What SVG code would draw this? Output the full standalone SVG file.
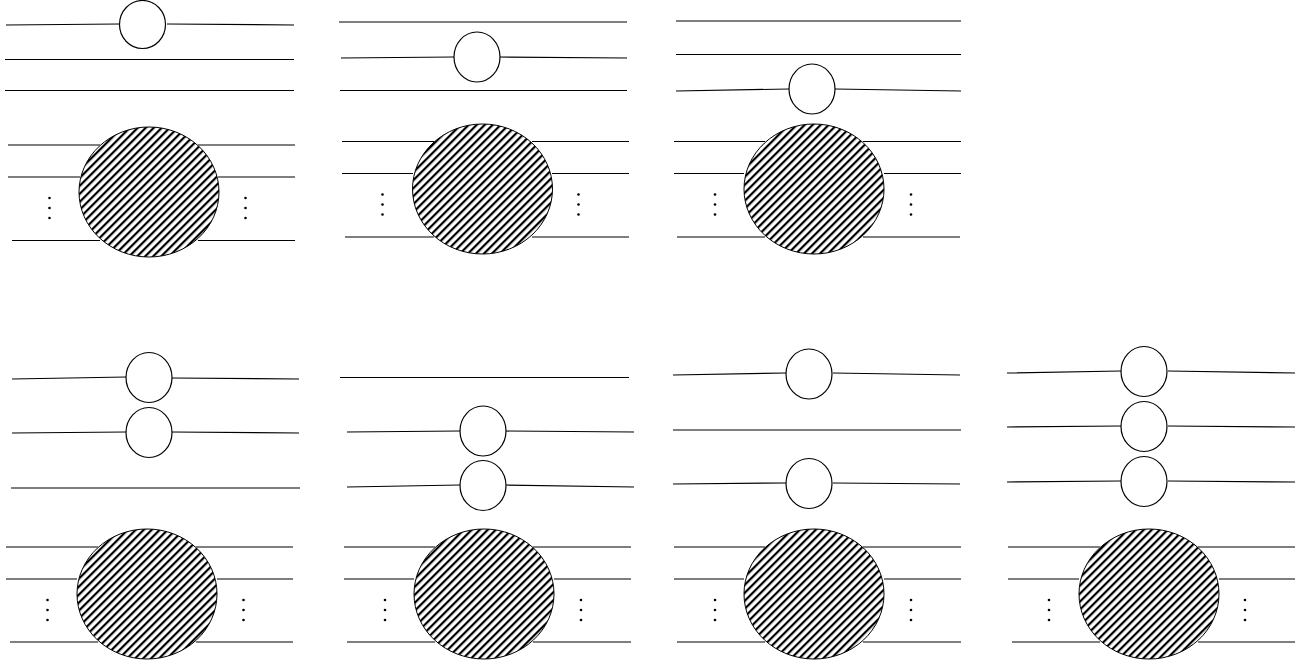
<svg xmlns="http://www.w3.org/2000/svg" width="1311" height="666" viewBox="0 0 1311 666">
<style>
line,path{fill:none;stroke:#000;stroke-width:1.2}
.s{fill:#fff;stroke:#000;stroke-width:1.2}
.b{fill:url(#h);stroke:#000;stroke-width:1}
.d{fill:#000;stroke:none}
</style>
<defs>
<pattern id="h" patternUnits="userSpaceOnUse" width="5.657" height="5.657" patternTransform="rotate(-45)">
<rect width="5.657" height="5.657" fill="#fff"/>
<rect width="5.657" height="2.200" fill="#000"/>
</pattern>
<g id="dots"><circle class="d" cx="0" cy="0" r="1.3"/><circle class="d" cx="0" cy="10" r="1.3"/><circle class="d" cx="0" cy="20" r="1.3"/></g>
</defs>
<g id="connectors">
<path d="M6 25L119 24M167 24L294 25M5 59.500H294M5 90.500H294M8 145H100M198 145H295M8 177H80M218 177H295M12 240.500H100M198 240.500H295"/>
<path d="M339 22H627M341 58L454 57M500 57L627 58M340 90.500H627M342 141.500H434M532 141.500H629M342 173.500H413M552 173.500H629M345 237H434M532 237H629"/>
<path d="M676 21H961M676 54.500H961M676 91L789 89M835 89L961 91M674 141.500H765M863 141.500H961M674 173.500H744M884 173.500H961M677 237H765M863 237H960"/>
<path d="M12 379L126 377M172 378L299 379M12 433L126 432M172 432L299 433M11 488H300M6 547H98M196 547H293M6 579H77M217 579H293M10 642H98M196 642H293"/>
<path d="M340 377.500H629M347 432L460 431M506 431L634 432M347 487L460 485M506 485L634 487M344 547H435M533 547H631M344 579H414M554 579H631M347 642H435M533 642H631"/>
<path d="M673 375L786 373M833 373L960 375M673 430H961M673 484L786 483M833 483L960 484M674 547H765M863 547H961M674 579H744M884 579H961M677 642H765M863 642H961"/>
<path d="M1007 373L1121 371M1168 371L1295 373M1007 427L1121 426M1168 426L1295 427M1007 482L1121 481M1168 481L1295 482M1008 547H1100M1198 547H1295M1008 579H1079M1219 579H1295M1012 642H1100M1198 642H1295"/>
</g>
<g id="p1-top"><ellipse class="s" cx="142.500" cy="24.500" rx="23" ry="24"/></g>
<g id="p1-blob"><ellipse class="b" cx="149" cy="192" rx="70" ry="65"/><use href="#dots" x="49.500" y="198"/><use href="#dots" x="245.500" y="198"/></g>
<g id="p2-top"><ellipse class="s" cx="477" cy="57" rx="23" ry="25"/></g>
<g id="p2-blob"><ellipse class="b" cx="482.500" cy="189" rx="70" ry="65"/><use href="#dots" x="382.500" y="194.500"/><use href="#dots" x="578.500" y="194.500"/></g>
<g id="p3-top"><ellipse class="s" cx="812" cy="89" rx="23" ry="25"/></g>
<g id="p3-blob"><ellipse class="b" cx="814" cy="189" rx="70" ry="65"/><use href="#dots" x="715" y="194.500"/><use href="#dots" x="911" y="194.500"/></g>
<g id="p4-a"><ellipse class="s" cx="149" cy="377.500" rx="23" ry="25"/></g>
<g id="p4-b"><ellipse class="s" cx="149" cy="432.500" rx="23" ry="25"/></g>
<g id="p4-blob"><ellipse class="b" cx="147" cy="594" rx="70" ry="65"/><use href="#dots" x="47.500" y="600"/><use href="#dots" x="243.500" y="600"/></g>
<g id="p5-a"><ellipse class="s" cx="483" cy="431" rx="23" ry="25"/></g>
<g id="p5-b"><ellipse class="s" cx="483" cy="485.500" rx="23" ry="25"/></g>
<g id="p5-blob"><ellipse class="b" cx="484" cy="594" rx="70" ry="65"/><use href="#dots" x="385" y="600"/><use href="#dots" x="581" y="600"/></g>
<g id="p6-a"><ellipse class="s" cx="809" cy="374" rx="23" ry="25"/></g>
<g id="p6-b"><ellipse class="s" cx="809" cy="483.500" rx="23" ry="25"/></g>
<g id="p6-blob"><ellipse class="b" cx="814" cy="594" rx="70" ry="65"/><use href="#dots" x="715" y="600"/><use href="#dots" x="911" y="600"/></g>
<g id="p7-a"><ellipse class="s" cx="1144" cy="371.500" rx="23" ry="25"/></g>
<g id="p7-b"><ellipse class="s" cx="1144" cy="426.500" rx="23" ry="25"/></g>
<g id="p7-c"><ellipse class="s" cx="1144" cy="481.500" rx="23" ry="25"/></g>
<g id="p7-blob"><ellipse class="b" cx="1149" cy="594" rx="70" ry="65"/><use href="#dots" x="1049" y="600"/><use href="#dots" x="1245" y="600"/></g>
</svg>
